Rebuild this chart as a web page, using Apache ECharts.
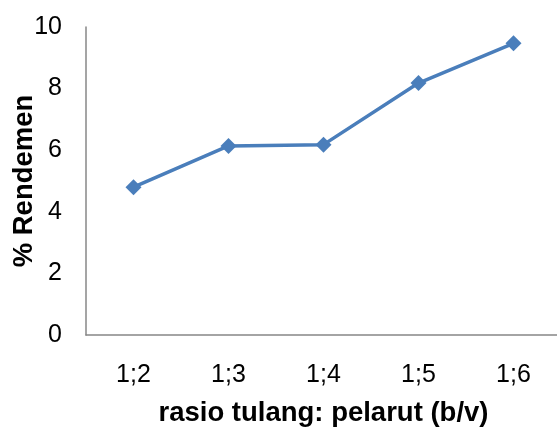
<!DOCTYPE html>
<html>
<head>
<meta charset="utf-8">
<script src="https://cdn.jsdelivr.net/npm/echarts@6/dist/echarts.min.js"></script>
<style>
  html, body { margin: 0; padding: 0; background: #fff; }
  #chart { width: 557px; height: 430px; }
</style>
</head>
<body>
<div id="chart"></div>
<script>
// Solvent ratio categories and yield values
const categories = ['1;2', '1;3', '1;4', '1;5', '1;6'];
const rendemen = [4.8, 6.14, 6.18, 8.18, 9.47];
const yTicks = [0, 2, 4, 6, 8, 10];

const chart = echarts.init(document.getElementById('chart'));
chart.setOption({
  animation: false,
  grid: { left: 86, right: -4, top: 27, bottom: 95, containLabel: false, outerBoundsMode: 'none' },
  xAxis: {
    type: 'category',
    data: categories,
    axisLine: { lineStyle: { color: '#878787', width: 1.5 } },
    axisTick: { show: false },
    axisLabel: { color: '#000', fontFamily: 'Liberation Sans, Arial', fontSize: 25, margin: 28 },
    name: 'rasio tulang: pelarut (b/v)',
    nameLocation: 'middle',
    nameGap: 64,
    nameMoveOverlap: false,
    nameTextStyle: { color: '#000', fontFamily: 'Liberation Sans, Arial', fontSize: 27.5, fontWeight: 'bold' }
  },
  yAxis: {
    type: 'value',
    min: yTicks[0],
    max: yTicks[yTicks.length - 1],
    interval: 2,
    axisLine: { show: true, lineStyle: { color: '#878787', width: 1.5 } },
    axisTick: { show: false },
    splitLine: { show: false },
    axisLabel: { color: '#000', fontFamily: 'Liberation Sans, Arial', fontSize: 25, margin: 24 },
    name: '% Rendemen',
    nameLocation: 'middle',
    nameGap: 48,
    nameMoveOverlap: false,
    nameTextStyle: { color: '#000', fontFamily: 'Liberation Sans, Arial', fontSize: 27.5, fontWeight: 'bold' }
  },
  series: [{
    type: 'line',
    data: rendemen,
    symbol: 'diamond',
    symbolSize: 16,
    lineStyle: { color: '#4a7ebb', width: 3.5 },
    itemStyle: { color: '#4a7ebb' }
  }]
});
</script>
</body>
</html>
